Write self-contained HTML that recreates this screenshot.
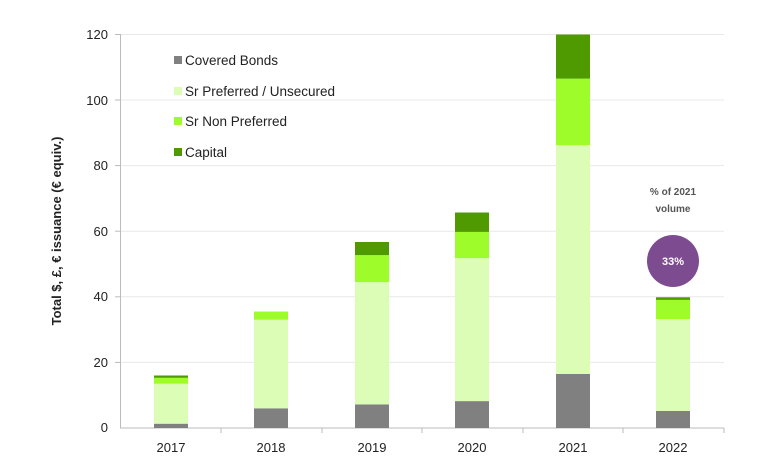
<!DOCTYPE html>
<html><head><style>
body{margin:0;background:#fff}
svg{font-family:"Liberation Sans",sans-serif}
</style></head><body>
<svg width="768" height="471" viewBox="0 0 768 471" xmlns="http://www.w3.org/2000/svg">
<g stroke="#e8e8e8" stroke-width="1">
<line x1="120" x2="724" y1="34.5" y2="34.5"/>
<line x1="120" x2="724" y1="100" y2="100"/>
<line x1="120" x2="724" y1="165.6" y2="165.6"/>
<line x1="120" x2="724" y1="231.2" y2="231.2"/>
<line x1="120" x2="724" y1="296.8" y2="296.8"/>
<line x1="120" x2="724" y1="362.4" y2="362.4"/>
</g>
<g stroke="#bbb" stroke-width="1">
<line x1="120.5" x2="120.5" y1="34" y2="428"/>
<line x1="120" x2="724" y1="428" y2="428"/>
<line x1="115" x2="120" y1="34.5" y2="34.5"/><line x1="115" x2="120" y1="100" y2="100"/><line x1="115" x2="120" y1="165.6" y2="165.6"/><line x1="115" x2="120" y1="231.2" y2="231.2"/><line x1="115" x2="120" y1="296.8" y2="296.8"/><line x1="115" x2="120" y1="362.4" y2="362.4"/>
<line x1="221" x2="221" y1="428" y2="433"/><line x1="322" x2="322" y1="428" y2="433"/><line x1="422" x2="422" y1="428" y2="433"/><line x1="523" x2="523" y1="428" y2="433"/><line x1="623" x2="623" y1="428" y2="433"/><line x1="724" x2="724" y1="428" y2="433"/>
</g>
<g font-size="13" fill="#222" text-anchor="end">
<text x="108" y="39">120</text><text x="108" y="105">100</text><text x="108" y="170">80</text><text x="108" y="236">60</text><text x="108" y="301">40</text><text x="108" y="367">20</text><text x="108" y="432">0</text>
</g>
<g font-size="13" fill="#222" text-anchor="middle">
<text x="171" y="452">2017</text><text x="271" y="452">2018</text><text x="372" y="452">2019</text><text x="472" y="452">2020</text><text x="573" y="452">2021</text><text x="673" y="452">2022</text>
</g>
<text transform="translate(61,231) rotate(-90)" font-size="13" font-weight="bold" fill="#222" text-anchor="middle">Total $, £, € issuance (€ equiv.)</text>
<g>
<rect x="154" y="423.7" width="34" height="4.3" fill="#808080"/>
<rect x="154" y="383.7" width="34" height="40" fill="#dcfdb5"/>
<rect x="154" y="377.8" width="34" height="5.9" fill="#9efc2a"/>
<rect x="154" y="375.5" width="34" height="2.3" fill="#4f9a00"/>

<rect x="254" y="408.3" width="34" height="19.7" fill="#808080"/>
<rect x="254" y="319.7" width="34" height="88.6" fill="#dcfdb5"/>
<rect x="254" y="311.5" width="34" height="8.2" fill="#9efc2a"/>

<rect x="355" y="404.4" width="34" height="23.6" fill="#808080"/>
<rect x="355" y="282.1" width="34" height="122.3" fill="#dcfdb5"/>
<rect x="355" y="255.1" width="34" height="27" fill="#9efc2a"/>
<rect x="355" y="242" width="34" height="13.1" fill="#4f9a00"/>

<rect x="455" y="401.1" width="34" height="26.9" fill="#808080"/>
<rect x="455" y="258.1" width="34" height="143" fill="#dcfdb5"/>
<rect x="455" y="231.9" width="34" height="26.2" fill="#9efc2a"/>
<rect x="455" y="212.5" width="34" height="19.4" fill="#4f9a00"/>

<rect x="556" y="373.9" width="34" height="54.1" fill="#808080"/>
<rect x="556" y="145.2" width="34" height="228.7" fill="#dcfdb5"/>
<rect x="556" y="78.6" width="34" height="66.6" fill="#9efc2a"/>
<rect x="556" y="34.5" width="34" height="44.1" fill="#4f9a00"/>

<rect x="656" y="410.9" width="34" height="17.1" fill="#808080"/>
<rect x="656" y="319" width="34" height="91.9" fill="#dcfdb5"/>
<rect x="656" y="299.9" width="34" height="19.1" fill="#9efc2a"/>
<rect x="656" y="297.3" width="34" height="2.6" fill="#4f9a00"/>
</g>
<g font-size="13.5" fill="#222">
<rect x="174" y="56" width="8" height="8" fill="#808080"/><text x="185" y="65">Covered Bonds</text>
<rect x="174" y="87" width="8" height="8" fill="#dcfdb5"/><text x="185" y="96">Sr Preferred / Unsecured</text>
<rect x="174" y="117" width="8" height="8" fill="#9efc2a"/><text x="185" y="126">Sr Non Preferred</text>
<rect x="174" y="148" width="8" height="8" fill="#4f9a00"/><text x="185" y="157">Capital</text>
</g>
<g font-size="10" font-weight="bold" fill="#555" text-anchor="middle">
<text x="673" y="195">% of 2021</text><text x="673" y="212">volume</text>
</g>
<circle cx="673" cy="261" r="26" fill="#7d4b8f"/>
<text x="673" y="265" font-size="11" font-weight="bold" fill="#fff" text-anchor="middle">33%</text>
</svg>
</body></html>
